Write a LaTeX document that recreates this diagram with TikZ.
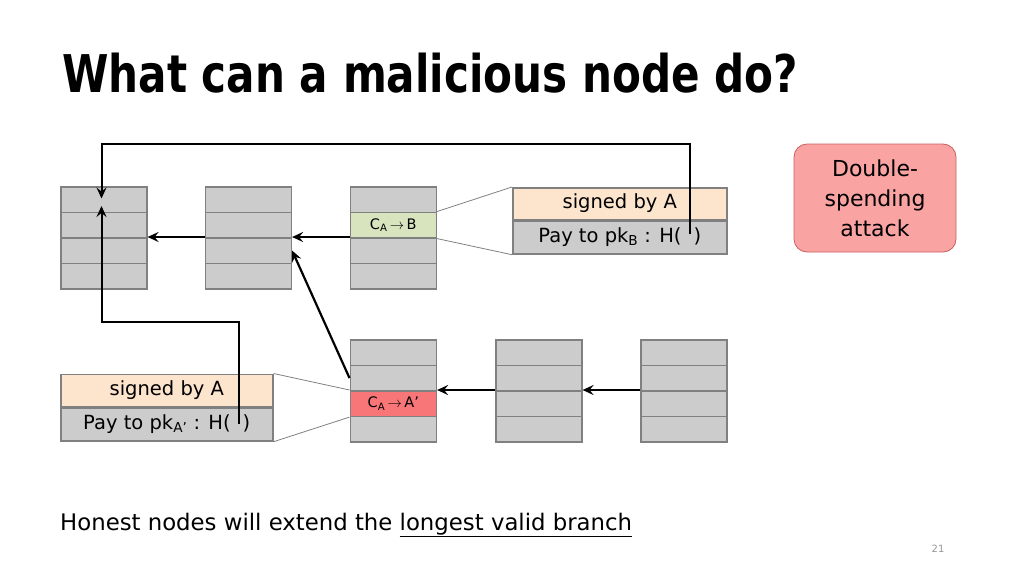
\documentclass[tikz,border=0pt]{standalone}
\usepackage{fontspec}
\setmainfont{DejaVu Sans}[BoldFeatures={FakeStretch=0.81}]
\usetikzlibrary{arrows.meta,calc}
\definecolor{blkfill}{RGB}{204,204,204}
\definecolor{blkdraw}{RGB}{128,128,128}
\definecolor{txgreen}{RGB}{215,228,189}
\definecolor{txorange}{RGB}{252,228,205}
\definecolor{txred}{RGB}{248,118,120}
\definecolor{dsfill}{RGB}{249,163,163}
\definecolor{dsdraw}{RGB}{200,95,95}
\definecolor{pgnum}{RGB}{150,150,150}
\begin{document}
\begin{tikzpicture}[x=1pt,y=-1pt,
  row/.style={draw=blkdraw,fill=blkfill,line width=1.6pt,minimum width=86pt,minimum height=25.5pt,inner sep=0pt,anchor=north west},
  txrow/.style={draw=blkdraw,line width=1.6pt,minimum width=214pt,inner sep=0pt,anchor=north west,font=\fontsize{19.5}{22}\selectfont},
  arr/.style={-{Stealth[length=11pt,width=10pt,inset=4pt]},line width=2.2pt,black},
  thin/.style={draw=blkdraw,line width=0.8pt},
  small/.style={font=\fontsize{14.5}{16}\selectfont}
]
\useasboundingbox (0,0) rectangle (1024,576);
% title
\node[anchor=base west,inner sep=0pt,font=\fontsize{52}{60}\selectfont\bfseries] (title) at (62,92.5) {What can a malicious node do?};
% blocks
\foreach \n/\x/\y in {b1/60/186, b2/204.5/186, b3/349.5/186, b4/349.5/339, b5/495/339, b6/640/339}{
  \foreach \i in {1,...,4}{
    \node[row] (\n r\i) at (\x,{\y+(\i-1)*25.5}) {};
  }
}
% coloured transaction rows
\node[row,fill=txgreen,small] (txB) at (b3r2.north west) {C\textsubscript{A}\,\ensuremath{\rightarrow}\,B};
\node[row,fill=txred,small] (txAp) at (b4r3.north west) {C\textsubscript{A}\,\ensuremath{\rightarrow}\,A’};
% transaction detail boxes
\node[txrow,fill=txorange,minimum height=31.5pt] (topSig) at (512,187) {signed by A};
\node[txrow,fill=blkfill,minimum height=33pt] (topPay) at (topSig.south west) {Pay to pk\textsubscript{B} : H(\hspace{12pt})};
\node[txrow,fill=txorange,minimum width=212pt,minimum height=32pt] (botSig) at (60,373.5) {signed by A};
\node[txrow,fill=blkfill,minimum width=212pt,minimum height=33pt] (botPay) at (botSig.south west) {Pay to pk\textsubscript{A’} : H(\hspace{12pt})};
% zoom lines
\draw[thin] (txB.north east) -- (topSig.north west);
\draw[thin] (txB.south east) -- (topPay.south west);
\draw[thin] (botSig.north east) -- (txAp.north west);
\draw[thin] (botPay.south east) -- (txAp.south west);
% chain arrows
\draw[arr] (b2r3.north west) -- (b1r3.north east);
\draw[arr] (b3r3.north west) -- (b2r3.north east);
\draw[arr] (b6r3.north west) -- (b5r3.north east);
\draw[arr] (b5r3.north west) -- (b4r3.north east);
\draw[arr] (b4r2.west) -- (b2r3.east);
% hash pointers
\coordinate (hB) at (689.5,234);
\coordinate (hA) at (239,424);
\coordinate (t1) at (101.5,198.5);
\coordinate (t2) at (101.5,206);
\draw[arr,line width=2pt] (hB) -- ++(0,-90) -| (t1);
\draw[arr,line width=2pt] (hA) -- ++(0,-102) -| (t2);
% double spending label
\node[draw=dsdraw,fill=dsfill,line width=0.8pt,rounded corners=13pt,minimum width=162pt,minimum height=108pt,align=center,font=\fontsize{22}{30}\selectfont] (ds) at (875,198) {Double-\\spending\\attack};
% footer
\node[anchor=base west,inner sep=0pt,font=\fontsize{22.8}{27}\selectfont] (foot) at (60,530.5) {Honest nodes will extend the \underline{longest valid branch}};
\node[inner sep=0pt,text=pgnum,font=\fontsize{10}{12}\selectfont] (pg) at (938,549) {21};
\end{tikzpicture}
\end{document}
